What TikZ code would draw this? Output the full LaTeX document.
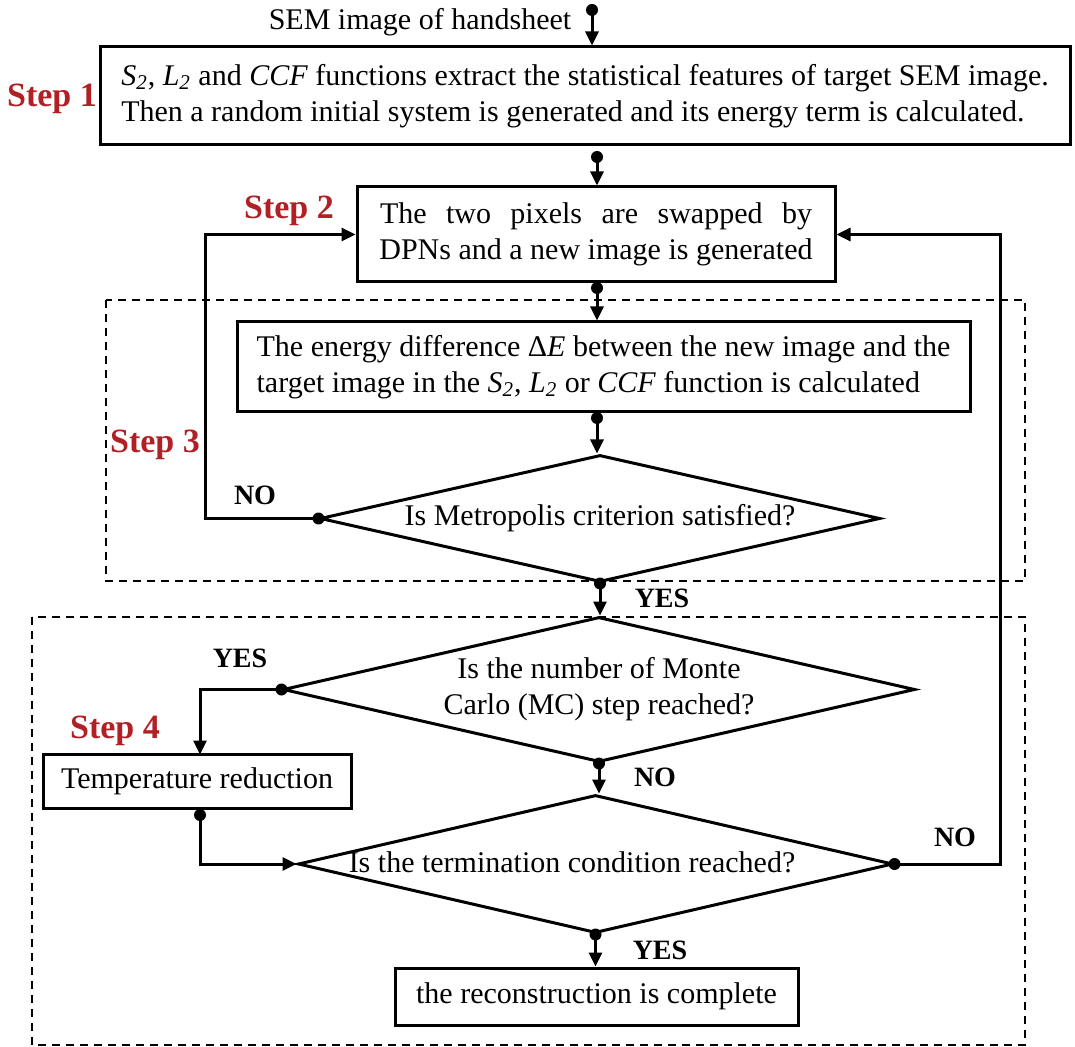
\documentclass[tikz,border=0pt]{standalone}
\usepackage{fontspec}
\setmainfont{Liberation Serif}
\usetikzlibrary{arrows.meta,shapes.geometric,calc}
\definecolor{stepred}{RGB}{176,32,36}
\begin{document}
\begin{tikzpicture}[x=0.5pt,y=-0.5pt,
  bodyfont/.style={font=\fontsize{15}{18}\selectfont},
  box/.style={draw, line width=1.5pt, inner sep=0pt, bodyfont},
  dia/.style={draw, diamond, line width=1.5pt, inner sep=0pt, align=center, bodyfont},
  con/.style={line width=1.5pt, -{Triangle[length=7pt,width=6.5pt]}},
  steplbl/.style={text=stepred, font=\fontsize{17}{20}\selectfont\bfseries},
  yn/.style={font=\fontsize{14}{16}\selectfont\bfseries},
  grp/.style={line width=1pt, dash pattern=on 4pt off 3pt}
]
\useasboundingbox (0,0) rectangle (1075,1047);

% group frames
\draw[grp] (106,300) rectangle (1025,581);
\draw[grp] (32,617) rectangle (1025,1045);

% nodes
\node[bodyfont] (src) at (420,22) {SEM image of handsheet};
\coordinate (srcdot) at (592,10);

\node[box, minimum width=485pt, minimum height=49pt, align=left] (b1) at (585,96)
 {\textit{S}\textsubscript{\textit{2}}, \textit{L}\textsubscript{\textit{2}} and \textit{CCF} functions extract the statistical features of target SEM image.\\
  Then a random initial system is generated and its energy term is calculated.};
\node[steplbl] (s1) at (52,99) {Step 1};

\node[box, minimum width=239pt, minimum height=47.5pt, align=center] (b2) at (596,234.5)
 {\makebox[216pt][s]{The two pixels are swapped by}\\DPNs and a new image is generated};
\node[steplbl] (s2) at (289,211) {Step 2};

\node[box, minimum width=366.5pt, minimum height=45pt, align=left] (b3) at (603.5,367)
 {The energy difference {\upshape Δ}\textit{E} between the new image and the\\
  target image in the \textit{S}\textsubscript{\textit{2}}, \textit{L}\textsubscript{\textit{2}} or \textit{CCF} function is calculated};
\node[steplbl] (s3) at (155,445) {Step 3};

\node[dia, minimum width=280pt, minimum height=63.5pt, shape aspect=4.41] (d1) at (600,518.5)
 {Is Metropolis criterion satisfied?};

\node[dia, minimum width=316pt, minimum height=72.5pt, shape aspect=4.36] (d2) at (599,689.5)
 {Is the number of Monte\\Carlo (MC) step reached?};
\node[steplbl] (s4) at (115,731) {Step 4};

\node[box, minimum width=154pt, minimum height=27pt] (t) at (197,781) {Temperature reduction};

\node[dia, minimum width=297.5pt, minimum height=69pt, shape aspect=4.31] (d3) at (595.5,864) {};
\node[bodyfont] (d3t) at (572,862) {Is the termination condition reached?};

\node[box, minimum width=201.5pt, minimum height=28.5pt] (f) at (596.5,996.5) {the reconstruction is complete};

% yes/no labels
\node[yn] (no1) at (255,495) {NO};
\node[yn] (yes1) at (662,598) {YES};
\node[yn] (yes2) at (240,658) {YES};
\node[yn] (no2) at (655,777) {NO};
\node[yn] (no3) at (955,837) {NO};
\node[yn] (yes3) at (660,950) {YES};

% dot coordinates
\coordinate (c1) at (597,157);
\coordinate (c2) at (597,288);
\coordinate (c3) at (597,418);
\coordinate (c4) at (200,815);

% connectors
\draw[con] (srcdot) -- (srcdot |- b1.north);
\draw[con] (c1) -- (c1 |- b2.north);
\draw[con] (c2) -- (c2 |- b3.north);
\draw[con] (c3) -- (c3 |- d1.north);
\draw[con] (d1.west) -- (205,518.5) -- (205,234.5) -- (b2.west);
\draw[con] (d1.south) -- (d1.south |- d2.north);
\draw[con] (d2.west) -- (200,689.5) -- (200,754.5);
\draw[con] (c4) -- (200,864) -- (d3.west);
\draw[con] (d2.south) -- (d2.south |- d3.north);
\draw[con] (d3.east) -- (1000,864) -- (1000,234.5) -- (b2.east);
\draw[con] (d3.south) -- (d3.south |- f.north);

% dots
\foreach \p in {srcdot,c1,c2,c3,c4,d1.west,d1.south,d2.west,d2.south,d3.east,d3.south}
  \fill (\p) circle (3pt);
\end{tikzpicture}
\end{document}
